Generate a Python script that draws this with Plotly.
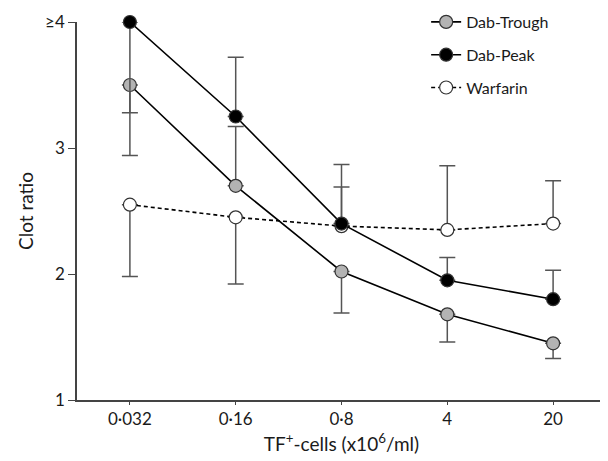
import plotly.graph_objects as go

categories = ["0·032", "0·16", "0·8", "4", "20"]

trough = [3.5, 2.7, 2.02, 1.68, 1.45]
trough_plus = [0, 0.47, 0, 0, 0]
trough_minus = [0.56, 0, 0.33, 0.22, 0.12]

peak = [4.0, 3.25, 2.4, 1.95, 1.8]
peak_plus = [0, 0.47, 0.47, 0.18, 0.23]
peak_minus = [0.72, 0, 0, 0, 0]

warfarin = [2.55, 2.45, 2.38, 2.35, 2.4]
warf_plus = [0, 0, 0.31, 0.51, 0.34]
warf_minus = [0.57, 0.53, 0, 0, 0]

y_ticks = [1, 2, 3, 4]
y_tick_text = ["1", "2", "3", "≥4"]

font = "Lato"
err_color = "#555555"

def series(name, y, plus, minus, fill, dash, rank):
    return go.Scatter(
        x=categories, y=y, name=name, mode="lines+markers",
        legendrank=rank, legendgroup=name,
        line=dict(color="black", width=1.6, dash=dash),
        marker=dict(size=13, color=fill, line=dict(color="#333333", width=1.2)),
        error_y=dict(type="data", symmetric=False, array=plus, arrayminus=minus,
                     color=err_color, thickness=1.5, width=8),
        cliponaxis=False,
    )

fig = go.Figure()
fig.add_trace(series("Warfarin", warfarin, warf_plus, warf_minus, "white", "4px,3px", 3))
fig.add_trace(series("Dab-Trough", trough, trough_plus, trough_minus, "#b3b3b3", "solid", 1))
fig.add_trace(series("Dab-Peak", peak, peak_plus, peak_minus, "black", "solid", 2))

# page body has an 8px margin, so the figure is offset by 8px right and down
fig.update_layout(
    width=600, height=453,
    margin=dict(l=69, r=2, t=14, b=61, autoexpand=False),
    plot_bgcolor="white", paper_bgcolor="white",
    font=dict(family=font, size=16, color="#1a1a1a"),
    showlegend=True,
    legend=dict(x=0.66, y=1.045, xanchor="left", yanchor="top",
                traceorder="grouped", font=dict(size=16),
                itemwidth=30, tracegroupgap=9, bgcolor="rgba(0,0,0,0)"),
    xaxis=dict(
        type="category", range=[-0.5, 4.5],
        showline=True, linecolor="#444444", linewidth=1.5,
        ticks="outside", ticklen=3, tickcolor="#444444",
        showgrid=False, zeroline=False,
        tickfont=dict(size=17),
        title=dict(text="TF<sup>+</sup>-cells (x10<sup>6</sup>/ml)", font=dict(size=19), standoff=10),
    ),
    yaxis=dict(
        range=[1, 4], tickvals=y_ticks, ticktext=y_tick_text,
        showline=True, linecolor="#444444", linewidth=1.5,
        ticks="outside", ticklen=7, tickcolor="#444444",
        showgrid=False, zeroline=False,
        tickfont=dict(size=17),
        title=dict(text="Clot ratio", font=dict(size=19), standoff=6),
    ),
)

fig.write_html("out.html")
